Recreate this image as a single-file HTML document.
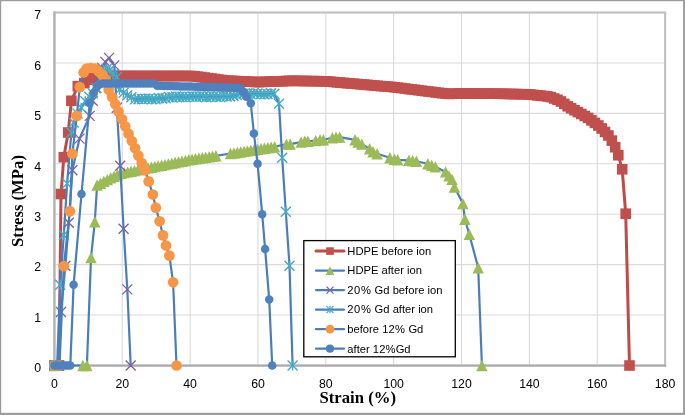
<!DOCTYPE html>
<html><head><meta charset="utf-8"><title>Stress-Strain</title>
<style>
html,body{margin:0;padding:0;background:#fff;}
#c{position:relative;width:685px;height:415px;overflow:hidden;background:#fff;}
.t{position:absolute;font-family:"Liberation Sans",sans-serif;font-size:11.2px;line-height:14px;color:#000;white-space:nowrap;}
#lb{position:absolute;left:0;top:0;width:685px;height:415px;will-change:transform;}
.tk{font-size:12.3px;}
.yt{left:0;width:41px;text-align:right;}
.xt{width:60px;text-align:center;top:376.8px;}
.ax{position:absolute;font-family:"Liberation Serif",serif;font-weight:bold;font-size:16.7px;line-height:20px;color:#000;white-space:nowrap;}
</style></head><body>
<div id="c">
<svg width="685" height="415" viewBox="0 0 685 415" style="position:absolute;left:0;top:0">
<rect x="0" y="0" width="685" height="415" fill="#fff"/>
<line x1="54.4" x2="665.1" y1="315.07" y2="315.07" stroke="#DADADA" stroke-width="1.1"/>
<line x1="54.4" x2="665.1" y1="264.64" y2="264.64" stroke="#DADADA" stroke-width="1.1"/>
<line x1="54.4" x2="665.1" y1="214.21" y2="214.21" stroke="#DADADA" stroke-width="1.1"/>
<line x1="54.4" x2="665.1" y1="163.79" y2="163.79" stroke="#DADADA" stroke-width="1.1"/>
<line x1="54.4" x2="665.1" y1="113.36" y2="113.36" stroke="#DADADA" stroke-width="1.1"/>
<line x1="54.4" x2="665.1" y1="62.93" y2="62.93" stroke="#DADADA" stroke-width="1.1"/>
<line x1="54.4" x2="665.1" y1="12.50" y2="12.50" stroke="#DADADA" stroke-width="1.1"/>
<line x1="122.26" x2="122.26" y1="12.5" y2="365.5" stroke="#DADADA" stroke-width="1.1"/>
<line x1="190.11" x2="190.11" y1="12.5" y2="365.5" stroke="#DADADA" stroke-width="1.1"/>
<line x1="257.97" x2="257.97" y1="12.5" y2="365.5" stroke="#DADADA" stroke-width="1.1"/>
<line x1="325.82" x2="325.82" y1="12.5" y2="365.5" stroke="#DADADA" stroke-width="1.1"/>
<line x1="393.68" x2="393.68" y1="12.5" y2="365.5" stroke="#DADADA" stroke-width="1.1"/>
<line x1="461.53" x2="461.53" y1="12.5" y2="365.5" stroke="#DADADA" stroke-width="1.1"/>
<line x1="529.39" x2="529.39" y1="12.5" y2="365.5" stroke="#DADADA" stroke-width="1.1"/>
<line x1="597.24" x2="597.24" y1="12.5" y2="365.5" stroke="#DADADA" stroke-width="1.1"/>
<line x1="665.10" x2="665.10" y1="12.5" y2="365.5" stroke="#DADADA" stroke-width="1.1"/>
<rect x="54.4" y="12.5" width="610.7" height="353.0" fill="none" stroke="#C2C2C2" stroke-width="2.2"/>
<line x1="54.4" x2="54.4" y1="11.4" y2="366.5" stroke="#B2B2B2" stroke-width="2.0"/>
<line x1="53.3" x2="666.2" y1="365.6" y2="365.6" stroke="#A8A8A8" stroke-width="1.9"/>
<polyline points="54.4,365.5 59.1,365.5 61.0,194.0 63.8,157.2 68.2,132.5 71.4,100.8 77.8,86.1 84.3,83.1 89.3,79.6 92.7,78.1 96.1,76.9 99.5,76.4 102.9,76.0 106.3,76.0 109.7,76.0 113.1,76.0 116.5,76.0 119.9,76.0 123.3,76.0 126.7,76.0 130.1,76.0 133.5,76.0 136.8,76.0 140.2,76.0 143.6,76.0 147.0,76.0 150.4,76.0 153.8,76.0 157.2,76.0 160.6,76.0 164.0,76.0 167.4,76.0 170.8,76.0 174.2,76.0 177.6,76.0 181.0,76.0 184.3,76.0 187.7,76.0 191.1,76.0 194.5,76.2 197.9,76.7 201.3,77.1 204.7,77.6 208.1,78.1 211.5,78.6 214.9,79.0 218.3,79.5 221.7,80.0 225.1,80.5 228.4,80.7 231.8,80.9 235.2,81.0 238.6,81.2 242.0,81.3 245.4,81.5 248.8,81.7 252.2,81.8 255.6,82.0 259.0,82.1 262.4,81.9 265.8,81.8 269.2,81.7 272.6,81.5 275.9,81.4 279.3,81.3 282.7,81.2 286.1,81.0 289.5,80.9 292.9,80.8 296.3,80.9 299.7,80.9 303.1,81.0 306.5,81.0 309.9,81.1 313.3,81.1 316.7,81.2 320.1,81.2 323.4,81.3 326.8,81.4 330.2,81.7 333.6,82.0 337.0,82.3 340.4,82.6 343.8,82.9 347.2,83.2 350.6,83.5 354.0,83.7 357.4,84.0 360.8,84.3 364.2,84.6 367.6,84.9 370.9,85.2 374.3,85.5 377.7,85.8 381.1,86.1 384.5,86.4 387.9,86.6 391.3,86.9 394.7,87.3 398.1,87.7 401.5,88.1 404.9,88.5 408.3,89.0 411.7,89.4 415.1,89.8 418.4,90.2 421.8,90.7 425.2,91.1 428.6,91.5 432.0,91.9 435.4,92.4 438.8,92.8 442.2,93.2 445.6,93.6 449.0,93.9 452.4,93.8 455.8,93.7 459.2,93.5 462.6,93.4 465.9,93.5 469.3,93.5 472.7,93.5 476.1,93.5 479.5,93.6 482.9,93.6 486.3,93.6 489.7,93.6 493.1,93.7 496.5,93.7 499.9,93.8 503.3,93.8 506.7,93.9 510.1,94.0 513.4,94.0 516.8,94.1 520.2,94.2 523.6,94.2 527.0,94.3 530.4,94.5 533.8,94.9 537.2,95.3 540.6,95.6 544.0,96.0 547.4,96.4 550.8,97.1 554.2,98.5 557.5,99.8 560.9,101.5 564.3,103.9 567.7,106.3 571.1,108.2 574.5,110.2 577.9,112.1 581.3,114.0 584.7,116.0 588.1,117.9 591.5,120.4 594.9,122.9 598.3,125.5 601.7,128.5 605.0,132.0 608.4,135.5 611.8,140.6 615.2,147.2 618.3,155.2 622.2,169.3 625.7,213.7 629.5,365.5" fill="none" stroke="#BE4B48" stroke-width="3.0" stroke-linejoin="round" stroke-linecap="round"/>
<rect x="49.1" y="360.2" width="10.6" height="10.6" fill="#C0504D"/>
<rect x="53.8" y="360.2" width="10.6" height="10.6" fill="#C0504D"/>
<rect x="55.7" y="188.7" width="10.6" height="10.6" fill="#C0504D"/>
<rect x="58.5" y="151.9" width="10.6" height="10.6" fill="#C0504D"/>
<rect x="62.9" y="127.2" width="10.6" height="10.6" fill="#C0504D"/>
<rect x="66.1" y="95.5" width="10.6" height="10.6" fill="#C0504D"/>
<rect x="72.5" y="80.8" width="10.6" height="10.6" fill="#C0504D"/>
<rect x="79.0" y="77.8" width="10.6" height="10.6" fill="#C0504D"/>
<rect x="84.0" y="74.3" width="10.6" height="10.6" fill="#C0504D"/>
<rect x="87.4" y="72.8" width="10.6" height="10.6" fill="#C0504D"/>
<rect x="90.8" y="71.6" width="10.6" height="10.6" fill="#C0504D"/>
<rect x="94.2" y="71.1" width="10.6" height="10.6" fill="#C0504D"/>
<rect x="97.6" y="70.7" width="10.6" height="10.6" fill="#C0504D"/>
<rect x="101.0" y="70.7" width="10.6" height="10.6" fill="#C0504D"/>
<rect x="104.4" y="70.7" width="10.6" height="10.6" fill="#C0504D"/>
<rect x="107.8" y="70.7" width="10.6" height="10.6" fill="#C0504D"/>
<rect x="111.2" y="70.7" width="10.6" height="10.6" fill="#C0504D"/>
<rect x="114.6" y="70.7" width="10.6" height="10.6" fill="#C0504D"/>
<rect x="118.0" y="70.7" width="10.6" height="10.6" fill="#C0504D"/>
<rect x="121.4" y="70.7" width="10.6" height="10.6" fill="#C0504D"/>
<rect x="124.8" y="70.7" width="10.6" height="10.6" fill="#C0504D"/>
<rect x="128.2" y="70.7" width="10.6" height="10.6" fill="#C0504D"/>
<rect x="131.5" y="70.7" width="10.6" height="10.6" fill="#C0504D"/>
<rect x="134.9" y="70.7" width="10.6" height="10.6" fill="#C0504D"/>
<rect x="138.3" y="70.7" width="10.6" height="10.6" fill="#C0504D"/>
<rect x="141.7" y="70.7" width="10.6" height="10.6" fill="#C0504D"/>
<rect x="145.1" y="70.7" width="10.6" height="10.6" fill="#C0504D"/>
<rect x="148.5" y="70.7" width="10.6" height="10.6" fill="#C0504D"/>
<rect x="151.9" y="70.7" width="10.6" height="10.6" fill="#C0504D"/>
<rect x="155.3" y="70.7" width="10.6" height="10.6" fill="#C0504D"/>
<rect x="158.7" y="70.7" width="10.6" height="10.6" fill="#C0504D"/>
<rect x="162.1" y="70.7" width="10.6" height="10.6" fill="#C0504D"/>
<rect x="165.5" y="70.7" width="10.6" height="10.6" fill="#C0504D"/>
<rect x="168.9" y="70.7" width="10.6" height="10.6" fill="#C0504D"/>
<rect x="172.3" y="70.7" width="10.6" height="10.6" fill="#C0504D"/>
<rect x="175.7" y="70.7" width="10.6" height="10.6" fill="#C0504D"/>
<rect x="179.0" y="70.7" width="10.6" height="10.6" fill="#C0504D"/>
<rect x="182.4" y="70.7" width="10.6" height="10.6" fill="#C0504D"/>
<rect x="185.8" y="70.7" width="10.6" height="10.6" fill="#C0504D"/>
<rect x="189.2" y="70.9" width="10.6" height="10.6" fill="#C0504D"/>
<rect x="192.6" y="71.4" width="10.6" height="10.6" fill="#C0504D"/>
<rect x="196.0" y="71.8" width="10.6" height="10.6" fill="#C0504D"/>
<rect x="199.4" y="72.3" width="10.6" height="10.6" fill="#C0504D"/>
<rect x="202.8" y="72.8" width="10.6" height="10.6" fill="#C0504D"/>
<rect x="206.2" y="73.3" width="10.6" height="10.6" fill="#C0504D"/>
<rect x="209.6" y="73.7" width="10.6" height="10.6" fill="#C0504D"/>
<rect x="213.0" y="74.2" width="10.6" height="10.6" fill="#C0504D"/>
<rect x="216.4" y="74.7" width="10.6" height="10.6" fill="#C0504D"/>
<rect x="219.8" y="75.2" width="10.6" height="10.6" fill="#C0504D"/>
<rect x="223.1" y="75.4" width="10.6" height="10.6" fill="#C0504D"/>
<rect x="226.5" y="75.6" width="10.6" height="10.6" fill="#C0504D"/>
<rect x="229.9" y="75.7" width="10.6" height="10.6" fill="#C0504D"/>
<rect x="233.3" y="75.9" width="10.6" height="10.6" fill="#C0504D"/>
<rect x="236.7" y="76.0" width="10.6" height="10.6" fill="#C0504D"/>
<rect x="240.1" y="76.2" width="10.6" height="10.6" fill="#C0504D"/>
<rect x="243.5" y="76.4" width="10.6" height="10.6" fill="#C0504D"/>
<rect x="246.9" y="76.5" width="10.6" height="10.6" fill="#C0504D"/>
<rect x="250.3" y="76.7" width="10.6" height="10.6" fill="#C0504D"/>
<rect x="253.7" y="76.8" width="10.6" height="10.6" fill="#C0504D"/>
<rect x="257.1" y="76.6" width="10.6" height="10.6" fill="#C0504D"/>
<rect x="260.5" y="76.5" width="10.6" height="10.6" fill="#C0504D"/>
<rect x="263.9" y="76.4" width="10.6" height="10.6" fill="#C0504D"/>
<rect x="267.3" y="76.2" width="10.6" height="10.6" fill="#C0504D"/>
<rect x="270.6" y="76.1" width="10.6" height="10.6" fill="#C0504D"/>
<rect x="274.0" y="76.0" width="10.6" height="10.6" fill="#C0504D"/>
<rect x="277.4" y="75.9" width="10.6" height="10.6" fill="#C0504D"/>
<rect x="280.8" y="75.7" width="10.6" height="10.6" fill="#C0504D"/>
<rect x="284.2" y="75.6" width="10.6" height="10.6" fill="#C0504D"/>
<rect x="287.6" y="75.5" width="10.6" height="10.6" fill="#C0504D"/>
<rect x="291.0" y="75.6" width="10.6" height="10.6" fill="#C0504D"/>
<rect x="294.4" y="75.6" width="10.6" height="10.6" fill="#C0504D"/>
<rect x="297.8" y="75.7" width="10.6" height="10.6" fill="#C0504D"/>
<rect x="301.2" y="75.7" width="10.6" height="10.6" fill="#C0504D"/>
<rect x="304.6" y="75.8" width="10.6" height="10.6" fill="#C0504D"/>
<rect x="308.0" y="75.8" width="10.6" height="10.6" fill="#C0504D"/>
<rect x="311.4" y="75.9" width="10.6" height="10.6" fill="#C0504D"/>
<rect x="314.8" y="75.9" width="10.6" height="10.6" fill="#C0504D"/>
<rect x="318.1" y="76.0" width="10.6" height="10.6" fill="#C0504D"/>
<rect x="321.5" y="76.1" width="10.6" height="10.6" fill="#C0504D"/>
<rect x="324.9" y="76.4" width="10.6" height="10.6" fill="#C0504D"/>
<rect x="328.3" y="76.7" width="10.6" height="10.6" fill="#C0504D"/>
<rect x="331.7" y="77.0" width="10.6" height="10.6" fill="#C0504D"/>
<rect x="335.1" y="77.3" width="10.6" height="10.6" fill="#C0504D"/>
<rect x="338.5" y="77.6" width="10.6" height="10.6" fill="#C0504D"/>
<rect x="341.9" y="77.9" width="10.6" height="10.6" fill="#C0504D"/>
<rect x="345.3" y="78.2" width="10.6" height="10.6" fill="#C0504D"/>
<rect x="348.7" y="78.4" width="10.6" height="10.6" fill="#C0504D"/>
<rect x="352.1" y="78.7" width="10.6" height="10.6" fill="#C0504D"/>
<rect x="355.5" y="79.0" width="10.6" height="10.6" fill="#C0504D"/>
<rect x="358.9" y="79.3" width="10.6" height="10.6" fill="#C0504D"/>
<rect x="362.3" y="79.6" width="10.6" height="10.6" fill="#C0504D"/>
<rect x="365.6" y="79.9" width="10.6" height="10.6" fill="#C0504D"/>
<rect x="369.0" y="80.2" width="10.6" height="10.6" fill="#C0504D"/>
<rect x="372.4" y="80.5" width="10.6" height="10.6" fill="#C0504D"/>
<rect x="375.8" y="80.8" width="10.6" height="10.6" fill="#C0504D"/>
<rect x="379.2" y="81.1" width="10.6" height="10.6" fill="#C0504D"/>
<rect x="382.6" y="81.3" width="10.6" height="10.6" fill="#C0504D"/>
<rect x="386.0" y="81.6" width="10.6" height="10.6" fill="#C0504D"/>
<rect x="389.4" y="82.0" width="10.6" height="10.6" fill="#C0504D"/>
<rect x="392.8" y="82.4" width="10.6" height="10.6" fill="#C0504D"/>
<rect x="396.2" y="82.8" width="10.6" height="10.6" fill="#C0504D"/>
<rect x="399.6" y="83.2" width="10.6" height="10.6" fill="#C0504D"/>
<rect x="403.0" y="83.7" width="10.6" height="10.6" fill="#C0504D"/>
<rect x="406.4" y="84.1" width="10.6" height="10.6" fill="#C0504D"/>
<rect x="409.8" y="84.5" width="10.6" height="10.6" fill="#C0504D"/>
<rect x="413.1" y="84.9" width="10.6" height="10.6" fill="#C0504D"/>
<rect x="416.5" y="85.4" width="10.6" height="10.6" fill="#C0504D"/>
<rect x="419.9" y="85.8" width="10.6" height="10.6" fill="#C0504D"/>
<rect x="423.3" y="86.2" width="10.6" height="10.6" fill="#C0504D"/>
<rect x="426.7" y="86.6" width="10.6" height="10.6" fill="#C0504D"/>
<rect x="430.1" y="87.1" width="10.6" height="10.6" fill="#C0504D"/>
<rect x="433.5" y="87.5" width="10.6" height="10.6" fill="#C0504D"/>
<rect x="436.9" y="87.9" width="10.6" height="10.6" fill="#C0504D"/>
<rect x="440.3" y="88.3" width="10.6" height="10.6" fill="#C0504D"/>
<rect x="443.7" y="88.6" width="10.6" height="10.6" fill="#C0504D"/>
<rect x="447.1" y="88.5" width="10.6" height="10.6" fill="#C0504D"/>
<rect x="450.5" y="88.4" width="10.6" height="10.6" fill="#C0504D"/>
<rect x="453.9" y="88.2" width="10.6" height="10.6" fill="#C0504D"/>
<rect x="457.3" y="88.1" width="10.6" height="10.6" fill="#C0504D"/>
<rect x="460.6" y="88.2" width="10.6" height="10.6" fill="#C0504D"/>
<rect x="464.0" y="88.2" width="10.6" height="10.6" fill="#C0504D"/>
<rect x="467.4" y="88.2" width="10.6" height="10.6" fill="#C0504D"/>
<rect x="470.8" y="88.2" width="10.6" height="10.6" fill="#C0504D"/>
<rect x="474.2" y="88.3" width="10.6" height="10.6" fill="#C0504D"/>
<rect x="477.6" y="88.3" width="10.6" height="10.6" fill="#C0504D"/>
<rect x="481.0" y="88.3" width="10.6" height="10.6" fill="#C0504D"/>
<rect x="484.4" y="88.3" width="10.6" height="10.6" fill="#C0504D"/>
<rect x="487.8" y="88.4" width="10.6" height="10.6" fill="#C0504D"/>
<rect x="491.2" y="88.4" width="10.6" height="10.6" fill="#C0504D"/>
<rect x="494.6" y="88.5" width="10.6" height="10.6" fill="#C0504D"/>
<rect x="498.0" y="88.5" width="10.6" height="10.6" fill="#C0504D"/>
<rect x="501.4" y="88.6" width="10.6" height="10.6" fill="#C0504D"/>
<rect x="504.8" y="88.7" width="10.6" height="10.6" fill="#C0504D"/>
<rect x="508.1" y="88.7" width="10.6" height="10.6" fill="#C0504D"/>
<rect x="511.5" y="88.8" width="10.6" height="10.6" fill="#C0504D"/>
<rect x="514.9" y="88.9" width="10.6" height="10.6" fill="#C0504D"/>
<rect x="518.3" y="88.9" width="10.6" height="10.6" fill="#C0504D"/>
<rect x="521.7" y="89.0" width="10.6" height="10.6" fill="#C0504D"/>
<rect x="525.1" y="89.2" width="10.6" height="10.6" fill="#C0504D"/>
<rect x="528.5" y="89.6" width="10.6" height="10.6" fill="#C0504D"/>
<rect x="531.9" y="90.0" width="10.6" height="10.6" fill="#C0504D"/>
<rect x="535.3" y="90.3" width="10.6" height="10.6" fill="#C0504D"/>
<rect x="538.7" y="90.7" width="10.6" height="10.6" fill="#C0504D"/>
<rect x="542.1" y="91.1" width="10.6" height="10.6" fill="#C0504D"/>
<rect x="545.5" y="91.8" width="10.6" height="10.6" fill="#C0504D"/>
<rect x="548.9" y="93.2" width="10.6" height="10.6" fill="#C0504D"/>
<rect x="552.2" y="94.5" width="10.6" height="10.6" fill="#C0504D"/>
<rect x="555.6" y="96.2" width="10.6" height="10.6" fill="#C0504D"/>
<rect x="559.0" y="98.6" width="10.6" height="10.6" fill="#C0504D"/>
<rect x="562.4" y="101.0" width="10.6" height="10.6" fill="#C0504D"/>
<rect x="565.8" y="102.9" width="10.6" height="10.6" fill="#C0504D"/>
<rect x="569.2" y="104.9" width="10.6" height="10.6" fill="#C0504D"/>
<rect x="572.6" y="106.8" width="10.6" height="10.6" fill="#C0504D"/>
<rect x="576.0" y="108.7" width="10.6" height="10.6" fill="#C0504D"/>
<rect x="579.4" y="110.7" width="10.6" height="10.6" fill="#C0504D"/>
<rect x="582.8" y="112.6" width="10.6" height="10.6" fill="#C0504D"/>
<rect x="586.2" y="115.1" width="10.6" height="10.6" fill="#C0504D"/>
<rect x="589.6" y="117.6" width="10.6" height="10.6" fill="#C0504D"/>
<rect x="593.0" y="120.2" width="10.6" height="10.6" fill="#C0504D"/>
<rect x="596.4" y="123.2" width="10.6" height="10.6" fill="#C0504D"/>
<rect x="599.7" y="126.7" width="10.6" height="10.6" fill="#C0504D"/>
<rect x="603.1" y="130.2" width="10.6" height="10.6" fill="#C0504D"/>
<rect x="606.5" y="135.3" width="10.6" height="10.6" fill="#C0504D"/>
<rect x="609.9" y="141.9" width="10.6" height="10.6" fill="#C0504D"/>
<rect x="613.0" y="149.9" width="10.6" height="10.6" fill="#C0504D"/>
<rect x="616.9" y="164.0" width="10.6" height="10.6" fill="#C0504D"/>
<rect x="620.4" y="208.4" width="10.6" height="10.6" fill="#C0504D"/>
<rect x="624.2" y="360.2" width="10.6" height="10.6" fill="#C0504D"/>
<polyline points="54.4,365.5 82.9,365.5 86.9,365.5 91.0,257.6 94.8,221.8 97.1,185.0 100.5,183.2 103.9,181.4 107.3,179.6 110.7,177.9 114.1,176.3 117.5,174.7 120.9,173.2 124.3,172.6 127.7,171.9 131.1,171.3 134.5,170.6 137.9,169.9 141.3,169.3 144.6,168.6 148.0,167.9 151.4,167.3 154.8,166.6 158.2,165.9 161.6,165.2 165.0,164.6 168.4,163.9 171.8,163.2 175.2,162.5 178.6,161.9 182.0,161.2 185.4,160.5 188.8,159.8 192.1,159.3 195.5,158.8 198.9,158.3 202.3,157.8 205.7,157.3 209.1,156.8 212.5,156.3 215.9,155.8 230.5,153.5 233.9,153.0 237.3,152.5 240.7,152.0 244.1,151.4 247.4,150.9 250.8,150.4 254.2,149.9 257.6,149.4 261.0,148.8 264.4,148.3 267.8,147.8 271.2,147.3 274.6,146.7 286.5,144.1 290.2,144.1 301.1,142.1 304.8,141.3 307.8,141.3 315.6,140.6 320.1,139.8 323.4,139.8 332.3,137.8 336.0,137.1 339.7,137.1 355.0,139.8 358.1,142.1 361.8,144.1 369.6,148.7 373.0,151.7 377.1,153.7 389.9,157.7 394.4,159.2 397.7,159.8 408.9,160.3 412.7,160.8 416.4,161.3 427.9,163.8 431.7,165.3 435.4,166.8 445.6,171.9 449.0,175.9 452.0,179.4 454.4,187.0 462.9,203.6 464.9,219.3 469.3,234.4 478.2,267.7 481.9,365.5" fill="none" stroke="#4A7EBB" stroke-width="2.2" stroke-linejoin="round" stroke-linecap="round"/>
<path d="M54.4 359.8 L60.1 371.2 L48.7 371.2 Z" fill="#9BBB59"/>
<path d="M82.9 359.8 L88.6 371.2 L77.2 371.2 Z" fill="#9BBB59"/>
<path d="M86.9 359.8 L92.6 371.2 L81.2 371.2 Z" fill="#9BBB59"/>
<path d="M91.0 251.9 L96.7 263.3 L85.3 263.3 Z" fill="#9BBB59"/>
<path d="M94.8 216.1 L100.5 227.5 L89.1 227.5 Z" fill="#9BBB59"/>
<path d="M97.1 179.3 L102.8 190.7 L91.4 190.7 Z" fill="#9BBB59"/>
<path d="M100.5 177.5 L106.2 188.9 L94.8 188.9 Z" fill="#9BBB59"/>
<path d="M103.9 175.7 L109.6 187.1 L98.2 187.1 Z" fill="#9BBB59"/>
<path d="M107.3 173.9 L113.0 185.3 L101.6 185.3 Z" fill="#9BBB59"/>
<path d="M110.7 172.2 L116.4 183.6 L105.0 183.6 Z" fill="#9BBB59"/>
<path d="M114.1 170.6 L119.8 182.0 L108.4 182.0 Z" fill="#9BBB59"/>
<path d="M117.5 169.0 L123.2 180.4 L111.8 180.4 Z" fill="#9BBB59"/>
<path d="M120.9 167.5 L126.6 178.9 L115.2 178.9 Z" fill="#9BBB59"/>
<path d="M124.3 166.9 L130.0 178.3 L118.6 178.3 Z" fill="#9BBB59"/>
<path d="M127.7 166.2 L133.4 177.6 L122.0 177.6 Z" fill="#9BBB59"/>
<path d="M131.1 165.6 L136.8 177.0 L125.4 177.0 Z" fill="#9BBB59"/>
<path d="M134.5 164.9 L140.2 176.3 L128.8 176.3 Z" fill="#9BBB59"/>
<path d="M137.9 164.2 L143.6 175.6 L132.2 175.6 Z" fill="#9BBB59"/>
<path d="M141.3 163.6 L147.0 175.0 L135.6 175.0 Z" fill="#9BBB59"/>
<path d="M144.6 162.9 L150.3 174.3 L138.9 174.3 Z" fill="#9BBB59"/>
<path d="M148.0 162.2 L153.7 173.6 L142.3 173.6 Z" fill="#9BBB59"/>
<path d="M151.4 161.6 L157.1 173.0 L145.7 173.0 Z" fill="#9BBB59"/>
<path d="M154.8 160.9 L160.5 172.3 L149.1 172.3 Z" fill="#9BBB59"/>
<path d="M158.2 160.2 L163.9 171.6 L152.5 171.6 Z" fill="#9BBB59"/>
<path d="M161.6 159.5 L167.3 170.9 L155.9 170.9 Z" fill="#9BBB59"/>
<path d="M165.0 158.9 L170.7 170.3 L159.3 170.3 Z" fill="#9BBB59"/>
<path d="M168.4 158.2 L174.1 169.6 L162.7 169.6 Z" fill="#9BBB59"/>
<path d="M171.8 157.5 L177.5 168.9 L166.1 168.9 Z" fill="#9BBB59"/>
<path d="M175.2 156.8 L180.9 168.2 L169.5 168.2 Z" fill="#9BBB59"/>
<path d="M178.6 156.2 L184.3 167.6 L172.9 167.6 Z" fill="#9BBB59"/>
<path d="M182.0 155.5 L187.7 166.9 L176.3 166.9 Z" fill="#9BBB59"/>
<path d="M185.4 154.8 L191.1 166.2 L179.7 166.2 Z" fill="#9BBB59"/>
<path d="M188.8 154.1 L194.5 165.5 L183.1 165.5 Z" fill="#9BBB59"/>
<path d="M192.1 153.6 L197.8 165.0 L186.4 165.0 Z" fill="#9BBB59"/>
<path d="M195.5 153.1 L201.2 164.5 L189.8 164.5 Z" fill="#9BBB59"/>
<path d="M198.9 152.6 L204.6 164.0 L193.2 164.0 Z" fill="#9BBB59"/>
<path d="M202.3 152.1 L208.0 163.5 L196.6 163.5 Z" fill="#9BBB59"/>
<path d="M205.7 151.6 L211.4 163.0 L200.0 163.0 Z" fill="#9BBB59"/>
<path d="M209.1 151.1 L214.8 162.5 L203.4 162.5 Z" fill="#9BBB59"/>
<path d="M212.5 150.6 L218.2 162.0 L206.8 162.0 Z" fill="#9BBB59"/>
<path d="M215.9 150.1 L221.6 161.5 L210.2 161.5 Z" fill="#9BBB59"/>
<path d="M230.5 147.8 L236.2 159.2 L224.8 159.2 Z" fill="#9BBB59"/>
<path d="M233.9 147.3 L239.6 158.7 L228.2 158.7 Z" fill="#9BBB59"/>
<path d="M237.3 146.8 L243.0 158.2 L231.6 158.2 Z" fill="#9BBB59"/>
<path d="M240.7 146.3 L246.4 157.7 L235.0 157.7 Z" fill="#9BBB59"/>
<path d="M244.1 145.7 L249.8 157.1 L238.4 157.1 Z" fill="#9BBB59"/>
<path d="M247.4 145.2 L253.1 156.6 L241.7 156.6 Z" fill="#9BBB59"/>
<path d="M250.8 144.7 L256.5 156.1 L245.1 156.1 Z" fill="#9BBB59"/>
<path d="M254.2 144.2 L259.9 155.6 L248.5 155.6 Z" fill="#9BBB59"/>
<path d="M257.6 143.7 L263.3 155.1 L251.9 155.1 Z" fill="#9BBB59"/>
<path d="M261.0 143.1 L266.7 154.5 L255.3 154.5 Z" fill="#9BBB59"/>
<path d="M264.4 142.6 L270.1 154.0 L258.7 154.0 Z" fill="#9BBB59"/>
<path d="M267.8 142.1 L273.5 153.5 L262.1 153.5 Z" fill="#9BBB59"/>
<path d="M271.2 141.6 L276.9 153.0 L265.5 153.0 Z" fill="#9BBB59"/>
<path d="M274.6 141.0 L280.3 152.4 L268.9 152.4 Z" fill="#9BBB59"/>
<path d="M286.5 138.4 L292.2 149.8 L280.8 149.8 Z" fill="#9BBB59"/>
<path d="M290.2 138.4 L295.9 149.8 L284.5 149.8 Z" fill="#9BBB59"/>
<path d="M301.1 136.4 L306.8 147.8 L295.4 147.8 Z" fill="#9BBB59"/>
<path d="M304.8 135.6 L310.5 147.0 L299.1 147.0 Z" fill="#9BBB59"/>
<path d="M307.8 135.6 L313.5 147.0 L302.1 147.0 Z" fill="#9BBB59"/>
<path d="M315.6 134.9 L321.3 146.3 L309.9 146.3 Z" fill="#9BBB59"/>
<path d="M320.1 134.1 L325.8 145.5 L314.4 145.5 Z" fill="#9BBB59"/>
<path d="M323.4 134.1 L329.1 145.5 L317.7 145.5 Z" fill="#9BBB59"/>
<path d="M332.3 132.1 L338.0 143.5 L326.6 143.5 Z" fill="#9BBB59"/>
<path d="M336.0 131.4 L341.7 142.8 L330.3 142.8 Z" fill="#9BBB59"/>
<path d="M339.7 131.4 L345.4 142.8 L334.0 142.8 Z" fill="#9BBB59"/>
<path d="M355.0 134.1 L360.7 145.5 L349.3 145.5 Z" fill="#9BBB59"/>
<path d="M358.1 136.4 L363.8 147.8 L352.4 147.8 Z" fill="#9BBB59"/>
<path d="M361.8 138.4 L367.5 149.8 L356.1 149.8 Z" fill="#9BBB59"/>
<path d="M369.6 143.0 L375.3 154.4 L363.9 154.4 Z" fill="#9BBB59"/>
<path d="M373.0 146.0 L378.7 157.4 L367.3 157.4 Z" fill="#9BBB59"/>
<path d="M377.1 148.0 L382.8 159.4 L371.4 159.4 Z" fill="#9BBB59"/>
<path d="M389.9 152.0 L395.6 163.4 L384.2 163.4 Z" fill="#9BBB59"/>
<path d="M394.4 153.5 L400.1 164.9 L388.7 164.9 Z" fill="#9BBB59"/>
<path d="M397.7 154.1 L403.4 165.5 L392.0 165.5 Z" fill="#9BBB59"/>
<path d="M408.9 154.6 L414.6 166.0 L403.2 166.0 Z" fill="#9BBB59"/>
<path d="M412.7 155.1 L418.4 166.5 L407.0 166.5 Z" fill="#9BBB59"/>
<path d="M416.4 155.6 L422.1 167.0 L410.7 167.0 Z" fill="#9BBB59"/>
<path d="M427.9 158.1 L433.6 169.5 L422.2 169.5 Z" fill="#9BBB59"/>
<path d="M431.7 159.6 L437.4 171.0 L426.0 171.0 Z" fill="#9BBB59"/>
<path d="M435.4 161.1 L441.1 172.5 L429.7 172.5 Z" fill="#9BBB59"/>
<path d="M445.6 166.2 L451.3 177.6 L439.9 177.6 Z" fill="#9BBB59"/>
<path d="M449.0 170.2 L454.7 181.6 L443.3 181.6 Z" fill="#9BBB59"/>
<path d="M452.0 173.7 L457.7 185.1 L446.3 185.1 Z" fill="#9BBB59"/>
<path d="M454.4 181.3 L460.1 192.7 L448.7 192.7 Z" fill="#9BBB59"/>
<path d="M462.9 197.9 L468.6 209.3 L457.2 209.3 Z" fill="#9BBB59"/>
<path d="M464.9 213.6 L470.6 225.0 L459.2 225.0 Z" fill="#9BBB59"/>
<path d="M469.3 228.7 L475.0 240.1 L463.6 240.1 Z" fill="#9BBB59"/>
<path d="M478.2 262.0 L483.9 273.4 L472.5 273.4 Z" fill="#9BBB59"/>
<path d="M481.9 359.8 L487.6 371.2 L476.2 371.2 Z" fill="#9BBB59"/>
<polyline points="54.4,365.5 58.5,365.5 61.0,312.0 65.4,265.7 68.8,222.8 72.4,170.3 79.5,138.6 89.7,115.9 92.7,100.8 95.8,88.1 99.2,77.0 102.2,68.0 105.3,61.9 109.0,57.9 114.3,65.4 116.8,107.8 120.2,165.8 123.6,228.8 127.3,289.4 130.7,365.5" fill="none" stroke="#4A7EBB" stroke-width="2.2" stroke-linejoin="round" stroke-linecap="round"/>
<path d="M49.4 360.5 L59.4 370.5 M49.4 370.5 L59.4 360.5" stroke="#7D60A0" stroke-width="1.3" fill="none"/>
<path d="M53.5 360.5 L63.5 370.5 M53.5 370.5 L63.5 360.5" stroke="#7D60A0" stroke-width="1.3" fill="none"/>
<path d="M56.0 307.0 L66.0 317.0 M56.0 317.0 L66.0 307.0" stroke="#7D60A0" stroke-width="1.3" fill="none"/>
<path d="M60.4 260.7 L70.4 270.7 M60.4 270.7 L70.4 260.7" stroke="#7D60A0" stroke-width="1.3" fill="none"/>
<path d="M63.8 217.8 L73.8 227.8 M63.8 227.8 L73.8 217.8" stroke="#7D60A0" stroke-width="1.3" fill="none"/>
<path d="M67.4 165.3 L77.4 175.3 M67.4 175.3 L77.4 165.3" stroke="#7D60A0" stroke-width="1.3" fill="none"/>
<path d="M74.5 133.6 L84.5 143.6 M74.5 143.6 L84.5 133.6" stroke="#7D60A0" stroke-width="1.3" fill="none"/>
<path d="M84.7 110.9 L94.7 120.9 M84.7 120.9 L94.7 110.9" stroke="#7D60A0" stroke-width="1.3" fill="none"/>
<path d="M87.7 95.8 L97.7 105.8 M87.7 105.8 L97.7 95.8" stroke="#7D60A0" stroke-width="1.3" fill="none"/>
<path d="M90.8 83.1 L100.8 93.1 M90.8 93.1 L100.8 83.1" stroke="#7D60A0" stroke-width="1.3" fill="none"/>
<path d="M94.2 72.0 L104.2 82.0 M94.2 82.0 L104.2 72.0" stroke="#7D60A0" stroke-width="1.3" fill="none"/>
<path d="M97.2 63.0 L107.2 73.0 M97.2 73.0 L107.2 63.0" stroke="#7D60A0" stroke-width="1.3" fill="none"/>
<path d="M100.3 56.9 L110.3 66.9 M100.3 66.9 L110.3 56.9" stroke="#7D60A0" stroke-width="1.3" fill="none"/>
<path d="M104.0 52.9 L114.0 62.9 M104.0 62.9 L114.0 52.9" stroke="#7D60A0" stroke-width="1.3" fill="none"/>
<path d="M109.3 60.4 L119.3 70.4 M109.3 70.4 L119.3 60.4" stroke="#7D60A0" stroke-width="1.3" fill="none"/>
<path d="M111.8 102.8 L121.8 112.8 M111.8 112.8 L121.8 102.8" stroke="#7D60A0" stroke-width="1.3" fill="none"/>
<path d="M115.2 160.8 L125.2 170.8 M115.2 170.8 L125.2 160.8" stroke="#7D60A0" stroke-width="1.3" fill="none"/>
<path d="M118.6 223.8 L128.6 233.8 M118.6 233.8 L128.6 223.8" stroke="#7D60A0" stroke-width="1.3" fill="none"/>
<path d="M122.3 284.4 L132.3 294.4 M122.3 294.4 L132.3 284.4" stroke="#7D60A0" stroke-width="1.3" fill="none"/>
<path d="M125.7 360.5 L135.7 370.5 M125.7 370.5 L135.7 360.5" stroke="#7D60A0" stroke-width="1.3" fill="none"/>
<polyline points="54.4,365.5 57.1,365.5 60.2,284.8 63.8,234.9 67.1,183.5 71.4,132.5 73.6,122.4 77.5,113.4 81.2,107.8 85.3,101.3 89.3,96.7 92.7,93.2 96.5,88.1 99.9,79.1 103.6,70.5 106.6,69.0 109.7,70.5 113.1,74.0 116.8,77.0 119.5,89.7 123.6,92.7 127.3,95.2 131.4,97.2 135.1,99.3 138.5,98.9 141.9,99.1 145.3,98.7 148.7,98.7 152.1,99.3 155.5,99.3 158.9,98.1 162.3,98.5 165.7,98.2 169.1,97.0 172.5,97.4 175.9,96.6 179.3,97.0 182.6,96.7 186.0,97.3 189.4,96.7 192.8,96.4 196.2,96.8 199.6,96.5 203.0,96.5 206.4,97.2 209.8,96.4 213.2,96.5 216.6,96.8 220.0,97.1 223.4,96.1 226.8,96.5 230.1,96.2 233.5,95.7 236.9,94.9 240.3,93.6 243.7,94.1 247.1,93.5 250.5,93.9 253.9,93.3 257.3,93.4 260.7,94.3 264.1,94.2 267.5,94.1 270.9,93.2 274.3,93.8 279.0,103.8 282.2,157.7 285.8,211.7 289.5,265.7 292.6,365.5" fill="none" stroke="#4A7EBB" stroke-width="2.2" stroke-linejoin="round" stroke-linecap="round"/>
<path d="M49.4 360.5 L59.4 370.5 M49.4 370.5 L59.4 360.5 M54.4 360.5 L54.4 370.5" stroke="#46AAC5" stroke-width="1.4" fill="none"/>
<path d="M52.1 360.5 L62.1 370.5 M52.1 370.5 L62.1 360.5 M57.1 360.5 L57.1 370.5" stroke="#46AAC5" stroke-width="1.4" fill="none"/>
<path d="M55.2 279.8 L65.2 289.8 M55.2 289.8 L65.2 279.8 M60.2 279.8 L60.2 289.8" stroke="#46AAC5" stroke-width="1.4" fill="none"/>
<path d="M58.8 229.9 L68.8 239.9 M58.8 239.9 L68.8 229.9 M63.8 229.9 L63.8 239.9" stroke="#46AAC5" stroke-width="1.4" fill="none"/>
<path d="M62.1 178.5 L72.1 188.5 M62.1 188.5 L72.1 178.5 M67.1 178.5 L67.1 188.5" stroke="#46AAC5" stroke-width="1.4" fill="none"/>
<path d="M66.4 127.5 L76.4 137.5 M66.4 137.5 L76.4 127.5 M71.4 127.5 L71.4 137.5" stroke="#46AAC5" stroke-width="1.4" fill="none"/>
<path d="M68.6 117.4 L78.6 127.4 M68.6 127.4 L78.6 117.4 M73.6 117.4 L73.6 127.4" stroke="#46AAC5" stroke-width="1.4" fill="none"/>
<path d="M72.5 108.4 L82.5 118.4 M72.5 118.4 L82.5 108.4 M77.5 108.4 L77.5 118.4" stroke="#46AAC5" stroke-width="1.4" fill="none"/>
<path d="M76.2 102.8 L86.2 112.8 M76.2 112.8 L86.2 102.8 M81.2 102.8 L81.2 112.8" stroke="#46AAC5" stroke-width="1.4" fill="none"/>
<path d="M80.3 96.3 L90.3 106.3 M80.3 106.3 L90.3 96.3 M85.3 96.3 L85.3 106.3" stroke="#46AAC5" stroke-width="1.4" fill="none"/>
<path d="M84.3 91.7 L94.3 101.7 M84.3 101.7 L94.3 91.7 M89.3 91.7 L89.3 101.7" stroke="#46AAC5" stroke-width="1.4" fill="none"/>
<path d="M87.7 88.2 L97.7 98.2 M87.7 98.2 L97.7 88.2 M92.7 88.2 L92.7 98.2" stroke="#46AAC5" stroke-width="1.4" fill="none"/>
<path d="M91.5 83.1 L101.5 93.1 M91.5 93.1 L101.5 83.1 M96.5 83.1 L96.5 93.1" stroke="#46AAC5" stroke-width="1.4" fill="none"/>
<path d="M94.9 74.1 L104.9 84.1 M94.9 84.1 L104.9 74.1 M99.9 74.1 L99.9 84.1" stroke="#46AAC5" stroke-width="1.4" fill="none"/>
<path d="M98.6 65.5 L108.6 75.5 M98.6 75.5 L108.6 65.5 M103.6 65.5 L103.6 75.5" stroke="#46AAC5" stroke-width="1.4" fill="none"/>
<path d="M101.6 64.0 L111.6 74.0 M101.6 74.0 L111.6 64.0 M106.6 64.0 L106.6 74.0" stroke="#46AAC5" stroke-width="1.4" fill="none"/>
<path d="M104.7 65.5 L114.7 75.5 M104.7 75.5 L114.7 65.5 M109.7 65.5 L109.7 75.5" stroke="#46AAC5" stroke-width="1.4" fill="none"/>
<path d="M108.1 69.0 L118.1 79.0 M108.1 79.0 L118.1 69.0 M113.1 69.0 L113.1 79.0" stroke="#46AAC5" stroke-width="1.4" fill="none"/>
<path d="M111.8 72.0 L121.8 82.0 M111.8 82.0 L121.8 72.0 M116.8 72.0 L116.8 82.0" stroke="#46AAC5" stroke-width="1.4" fill="none"/>
<path d="M114.5 84.7 L124.5 94.7 M114.5 94.7 L124.5 84.7 M119.5 84.7 L119.5 94.7" stroke="#46AAC5" stroke-width="1.4" fill="none"/>
<path d="M118.6 87.7 L128.6 97.7 M118.6 97.7 L128.6 87.7 M123.6 87.7 L123.6 97.7" stroke="#46AAC5" stroke-width="1.4" fill="none"/>
<path d="M122.3 90.2 L132.3 100.2 M122.3 100.2 L132.3 90.2 M127.3 90.2 L127.3 100.2" stroke="#46AAC5" stroke-width="1.4" fill="none"/>
<path d="M126.4 92.2 L136.4 102.2 M126.4 102.2 L136.4 92.2 M131.4 92.2 L131.4 102.2" stroke="#46AAC5" stroke-width="1.4" fill="none"/>
<path d="M130.1 94.3 L140.1 104.3 M130.1 104.3 L140.1 94.3 M135.1 94.3 L135.1 104.3" stroke="#46AAC5" stroke-width="1.4" fill="none"/>
<path d="M133.5 93.9 L143.5 103.9 M133.5 103.9 L143.5 93.9 M138.5 93.9 L138.5 103.9" stroke="#46AAC5" stroke-width="1.4" fill="none"/>
<path d="M136.9 94.1 L146.9 104.1 M136.9 104.1 L146.9 94.1 M141.9 94.1 L141.9 104.1" stroke="#46AAC5" stroke-width="1.4" fill="none"/>
<path d="M140.3 93.7 L150.3 103.7 M140.3 103.7 L150.3 93.7 M145.3 93.7 L145.3 103.7" stroke="#46AAC5" stroke-width="1.4" fill="none"/>
<path d="M143.7 93.7 L153.7 103.7 M143.7 103.7 L153.7 93.7 M148.7 93.7 L148.7 103.7" stroke="#46AAC5" stroke-width="1.4" fill="none"/>
<path d="M147.1 94.3 L157.1 104.3 M147.1 104.3 L157.1 94.3 M152.1 94.3 L152.1 104.3" stroke="#46AAC5" stroke-width="1.4" fill="none"/>
<path d="M150.5 94.3 L160.5 104.3 M150.5 104.3 L160.5 94.3 M155.5 94.3 L155.5 104.3" stroke="#46AAC5" stroke-width="1.4" fill="none"/>
<path d="M153.9 93.1 L163.9 103.1 M153.9 103.1 L163.9 93.1 M158.9 93.1 L158.9 103.1" stroke="#46AAC5" stroke-width="1.4" fill="none"/>
<path d="M157.3 93.5 L167.3 103.5 M157.3 103.5 L167.3 93.5 M162.3 93.5 L162.3 103.5" stroke="#46AAC5" stroke-width="1.4" fill="none"/>
<path d="M160.7 93.2 L170.7 103.2 M160.7 103.2 L170.7 93.2 M165.7 93.2 L165.7 103.2" stroke="#46AAC5" stroke-width="1.4" fill="none"/>
<path d="M164.1 92.0 L174.1 102.0 M164.1 102.0 L174.1 92.0 M169.1 92.0 L169.1 102.0" stroke="#46AAC5" stroke-width="1.4" fill="none"/>
<path d="M167.5 92.4 L177.5 102.4 M167.5 102.4 L177.5 92.4 M172.5 92.4 L172.5 102.4" stroke="#46AAC5" stroke-width="1.4" fill="none"/>
<path d="M170.9 91.6 L180.9 101.6 M170.9 101.6 L180.9 91.6 M175.9 91.6 L175.9 101.6" stroke="#46AAC5" stroke-width="1.4" fill="none"/>
<path d="M174.3 92.0 L184.3 102.0 M174.3 102.0 L184.3 92.0 M179.3 92.0 L179.3 102.0" stroke="#46AAC5" stroke-width="1.4" fill="none"/>
<path d="M177.6 91.7 L187.6 101.7 M177.6 101.7 L187.6 91.7 M182.6 91.7 L182.6 101.7" stroke="#46AAC5" stroke-width="1.4" fill="none"/>
<path d="M181.0 92.3 L191.0 102.3 M181.0 102.3 L191.0 92.3 M186.0 92.3 L186.0 102.3" stroke="#46AAC5" stroke-width="1.4" fill="none"/>
<path d="M184.4 91.7 L194.4 101.7 M184.4 101.7 L194.4 91.7 M189.4 91.7 L189.4 101.7" stroke="#46AAC5" stroke-width="1.4" fill="none"/>
<path d="M187.8 91.4 L197.8 101.4 M187.8 101.4 L197.8 91.4 M192.8 91.4 L192.8 101.4" stroke="#46AAC5" stroke-width="1.4" fill="none"/>
<path d="M191.2 91.8 L201.2 101.8 M191.2 101.8 L201.2 91.8 M196.2 91.8 L196.2 101.8" stroke="#46AAC5" stroke-width="1.4" fill="none"/>
<path d="M194.6 91.5 L204.6 101.5 M194.6 101.5 L204.6 91.5 M199.6 91.5 L199.6 101.5" stroke="#46AAC5" stroke-width="1.4" fill="none"/>
<path d="M198.0 91.5 L208.0 101.5 M198.0 101.5 L208.0 91.5 M203.0 91.5 L203.0 101.5" stroke="#46AAC5" stroke-width="1.4" fill="none"/>
<path d="M201.4 92.2 L211.4 102.2 M201.4 102.2 L211.4 92.2 M206.4 92.2 L206.4 102.2" stroke="#46AAC5" stroke-width="1.4" fill="none"/>
<path d="M204.8 91.4 L214.8 101.4 M204.8 101.4 L214.8 91.4 M209.8 91.4 L209.8 101.4" stroke="#46AAC5" stroke-width="1.4" fill="none"/>
<path d="M208.2 91.5 L218.2 101.5 M208.2 101.5 L218.2 91.5 M213.2 91.5 L213.2 101.5" stroke="#46AAC5" stroke-width="1.4" fill="none"/>
<path d="M211.6 91.8 L221.6 101.8 M211.6 101.8 L221.6 91.8 M216.6 91.8 L216.6 101.8" stroke="#46AAC5" stroke-width="1.4" fill="none"/>
<path d="M215.0 92.1 L225.0 102.1 M215.0 102.1 L225.0 92.1 M220.0 92.1 L220.0 102.1" stroke="#46AAC5" stroke-width="1.4" fill="none"/>
<path d="M218.4 91.1 L228.4 101.1 M218.4 101.1 L228.4 91.1 M223.4 91.1 L223.4 101.1" stroke="#46AAC5" stroke-width="1.4" fill="none"/>
<path d="M221.8 91.5 L231.8 101.5 M221.8 101.5 L231.8 91.5 M226.8 91.5 L226.8 101.5" stroke="#46AAC5" stroke-width="1.4" fill="none"/>
<path d="M225.1 91.2 L235.1 101.2 M225.1 101.2 L235.1 91.2 M230.1 91.2 L230.1 101.2" stroke="#46AAC5" stroke-width="1.4" fill="none"/>
<path d="M228.5 90.7 L238.5 100.7 M228.5 100.7 L238.5 90.7 M233.5 90.7 L233.5 100.7" stroke="#46AAC5" stroke-width="1.4" fill="none"/>
<path d="M231.9 89.9 L241.9 99.9 M231.9 99.9 L241.9 89.9 M236.9 89.9 L236.9 99.9" stroke="#46AAC5" stroke-width="1.4" fill="none"/>
<path d="M235.3 88.6 L245.3 98.6 M235.3 98.6 L245.3 88.6 M240.3 88.6 L240.3 98.6" stroke="#46AAC5" stroke-width="1.4" fill="none"/>
<path d="M238.7 89.1 L248.7 99.1 M238.7 99.1 L248.7 89.1 M243.7 89.1 L243.7 99.1" stroke="#46AAC5" stroke-width="1.4" fill="none"/>
<path d="M242.1 88.5 L252.1 98.5 M242.1 98.5 L252.1 88.5 M247.1 88.5 L247.1 98.5" stroke="#46AAC5" stroke-width="1.4" fill="none"/>
<path d="M245.5 88.9 L255.5 98.9 M245.5 98.9 L255.5 88.9 M250.5 88.9 L250.5 98.9" stroke="#46AAC5" stroke-width="1.4" fill="none"/>
<path d="M248.9 88.3 L258.9 98.3 M248.9 98.3 L258.9 88.3 M253.9 88.3 L253.9 98.3" stroke="#46AAC5" stroke-width="1.4" fill="none"/>
<path d="M252.3 88.4 L262.3 98.4 M252.3 98.4 L262.3 88.4 M257.3 88.4 L257.3 98.4" stroke="#46AAC5" stroke-width="1.4" fill="none"/>
<path d="M255.7 89.3 L265.7 99.3 M255.7 99.3 L265.7 89.3 M260.7 89.3 L260.7 99.3" stroke="#46AAC5" stroke-width="1.4" fill="none"/>
<path d="M259.1 89.2 L269.1 99.2 M259.1 99.2 L269.1 89.2 M264.1 89.2 L264.1 99.2" stroke="#46AAC5" stroke-width="1.4" fill="none"/>
<path d="M262.5 89.1 L272.5 99.1 M262.5 99.1 L272.5 89.1 M267.5 89.1 L267.5 99.1" stroke="#46AAC5" stroke-width="1.4" fill="none"/>
<path d="M265.9 88.2 L275.9 98.2 M265.9 98.2 L275.9 88.2 M270.9 88.2 L270.9 98.2" stroke="#46AAC5" stroke-width="1.4" fill="none"/>
<path d="M269.3 88.8 L279.3 98.8 M269.3 98.8 L279.3 88.8 M274.3 88.8 L274.3 98.8" stroke="#46AAC5" stroke-width="1.4" fill="none"/>
<path d="M274.0 98.8 L284.0 108.8 M274.0 108.8 L284.0 98.8 M279.0 98.8 L279.0 108.8" stroke="#46AAC5" stroke-width="1.4" fill="none"/>
<path d="M277.2 152.7 L287.2 162.7 M277.2 162.7 L287.2 152.7 M282.2 152.7 L282.2 162.7" stroke="#46AAC5" stroke-width="1.4" fill="none"/>
<path d="M280.8 206.7 L290.8 216.7 M280.8 216.7 L290.8 206.7 M285.8 206.7 L285.8 216.7" stroke="#46AAC5" stroke-width="1.4" fill="none"/>
<path d="M284.5 260.7 L294.5 270.7 M284.5 270.7 L294.5 260.7 M289.5 260.7 L289.5 270.7" stroke="#46AAC5" stroke-width="1.4" fill="none"/>
<path d="M287.6 360.5 L297.6 370.5 M287.6 370.5 L297.6 360.5 M292.6 360.5 L292.6 370.5" stroke="#46AAC5" stroke-width="1.4" fill="none"/>
<polyline points="54.4,365.5 59.5,365.5 63.8,266.2 69.9,211.2 72.4,153.7 76.8,115.9 79.8,87.1 83.6,72.5 86.6,68.5 90.7,68.0 95.1,68.5 98.5,71.0 102.2,74.5 105.6,79.6 108.7,89.7 112.0,97.0 115.3,104.3 118.6,111.7 121.9,119.0 125.2,126.3 128.5,133.7 131.8,141.0 135.1,148.3 138.4,155.7 141.7,163.0 145.0,170.3 148.7,181.4 152.8,194.5 155.8,207.7 159.6,221.3 163.0,235.4 166.0,245.5 169.4,255.6 173.1,282.3 176.5,365.5" fill="none" stroke="#4A7EBB" stroke-width="2.2" stroke-linejoin="round" stroke-linecap="round"/>
<circle cx="54.4" cy="365.5" r="5.35" fill="#F79646"/>
<circle cx="59.5" cy="365.5" r="5.35" fill="#F79646"/>
<circle cx="63.8" cy="266.2" r="5.35" fill="#F79646"/>
<circle cx="69.9" cy="211.2" r="5.35" fill="#F79646"/>
<circle cx="72.4" cy="153.7" r="5.35" fill="#F79646"/>
<circle cx="76.8" cy="115.9" r="5.35" fill="#F79646"/>
<circle cx="79.8" cy="87.1" r="5.35" fill="#F79646"/>
<circle cx="83.6" cy="72.5" r="5.35" fill="#F79646"/>
<circle cx="86.6" cy="68.5" r="5.35" fill="#F79646"/>
<circle cx="90.7" cy="68.0" r="5.35" fill="#F79646"/>
<circle cx="95.1" cy="68.5" r="5.35" fill="#F79646"/>
<circle cx="98.5" cy="71.0" r="5.35" fill="#F79646"/>
<circle cx="102.2" cy="74.5" r="5.35" fill="#F79646"/>
<circle cx="105.6" cy="79.6" r="5.35" fill="#F79646"/>
<circle cx="108.7" cy="89.7" r="5.35" fill="#F79646"/>
<circle cx="112.0" cy="97.0" r="5.35" fill="#F79646"/>
<circle cx="115.3" cy="104.3" r="5.35" fill="#F79646"/>
<circle cx="118.6" cy="111.7" r="5.35" fill="#F79646"/>
<circle cx="121.9" cy="119.0" r="5.35" fill="#F79646"/>
<circle cx="125.2" cy="126.3" r="5.35" fill="#F79646"/>
<circle cx="128.5" cy="133.7" r="5.35" fill="#F79646"/>
<circle cx="131.8" cy="141.0" r="5.35" fill="#F79646"/>
<circle cx="135.1" cy="148.3" r="5.35" fill="#F79646"/>
<circle cx="138.4" cy="155.7" r="5.35" fill="#F79646"/>
<circle cx="141.7" cy="163.0" r="5.35" fill="#F79646"/>
<circle cx="145.0" cy="170.3" r="5.35" fill="#F79646"/>
<circle cx="148.7" cy="181.4" r="5.35" fill="#F79646"/>
<circle cx="152.8" cy="194.5" r="5.35" fill="#F79646"/>
<circle cx="155.8" cy="207.7" r="5.35" fill="#F79646"/>
<circle cx="159.6" cy="221.3" r="5.35" fill="#F79646"/>
<circle cx="163.0" cy="235.4" r="5.35" fill="#F79646"/>
<circle cx="166.0" cy="245.5" r="5.35" fill="#F79646"/>
<circle cx="169.4" cy="255.6" r="5.35" fill="#F79646"/>
<circle cx="173.1" cy="282.3" r="5.35" fill="#F79646"/>
<circle cx="176.5" cy="365.5" r="5.35" fill="#F79646"/>
<polyline points="54.4,365.5 57.1,365.5 59.8,365.5 62.5,365.5 65.3,365.5 68.0,365.5 70.3,365.5 73.6,284.8 81.5,194.0 89.7,103.3 93.8,92.7 96.8,87.1 99.5,84.6 102.9,83.6 106.3,83.6 109.7,83.6 113.1,83.6 116.5,83.6 119.9,83.6 123.3,83.6 126.7,83.6 130.1,83.6 133.5,83.6 136.8,83.6 140.2,83.6 143.6,83.6 147.0,83.6 150.4,83.6 153.8,83.6 157.2,85.7 160.6,85.8 164.0,85.9 167.4,86.0 170.8,86.1 174.2,86.2 177.6,86.3 181.0,86.4 184.3,86.4 187.7,86.5 191.1,86.6 194.5,86.7 197.9,86.8 201.3,86.9 204.7,87.0 208.1,87.1 211.5,87.2 214.9,87.3 218.3,87.3 221.7,87.4 225.1,87.5 228.4,87.6 231.8,87.7 235.2,87.8 238.6,87.9 240.7,88.6 243.4,91.7 246.4,96.7 250.8,103.3 253.9,133.5 257.6,163.8 262.2,214.2 265.1,249.0 269.2,299.4 272.2,365.5" fill="none" stroke="#4A7EBB" stroke-width="2.2" stroke-linejoin="round" stroke-linecap="round"/>
<circle cx="54.4" cy="365.5" r="4.25" fill="#4F81BD"/>
<circle cx="57.1" cy="365.5" r="4.25" fill="#4F81BD"/>
<circle cx="59.8" cy="365.5" r="4.25" fill="#4F81BD"/>
<circle cx="62.5" cy="365.5" r="4.25" fill="#4F81BD"/>
<circle cx="65.3" cy="365.5" r="4.25" fill="#4F81BD"/>
<circle cx="68.0" cy="365.5" r="4.25" fill="#4F81BD"/>
<circle cx="70.3" cy="365.5" r="4.25" fill="#4F81BD"/>
<circle cx="73.6" cy="284.8" r="4.25" fill="#4F81BD"/>
<circle cx="81.5" cy="194.0" r="4.25" fill="#4F81BD"/>
<circle cx="89.7" cy="103.3" r="4.25" fill="#4F81BD"/>
<circle cx="93.8" cy="92.7" r="4.25" fill="#4F81BD"/>
<circle cx="96.8" cy="87.1" r="4.25" fill="#4F81BD"/>
<circle cx="99.5" cy="84.6" r="4.25" fill="#4F81BD"/>
<circle cx="102.9" cy="83.6" r="4.25" fill="#4F81BD"/>
<circle cx="106.3" cy="83.6" r="4.25" fill="#4F81BD"/>
<circle cx="109.7" cy="83.6" r="4.25" fill="#4F81BD"/>
<circle cx="113.1" cy="83.6" r="4.25" fill="#4F81BD"/>
<circle cx="116.5" cy="83.6" r="4.25" fill="#4F81BD"/>
<circle cx="119.9" cy="83.6" r="4.25" fill="#4F81BD"/>
<circle cx="123.3" cy="83.6" r="4.25" fill="#4F81BD"/>
<circle cx="126.7" cy="83.6" r="4.25" fill="#4F81BD"/>
<circle cx="130.1" cy="83.6" r="4.25" fill="#4F81BD"/>
<circle cx="133.5" cy="83.6" r="4.25" fill="#4F81BD"/>
<circle cx="136.8" cy="83.6" r="4.25" fill="#4F81BD"/>
<circle cx="140.2" cy="83.6" r="4.25" fill="#4F81BD"/>
<circle cx="143.6" cy="83.6" r="4.25" fill="#4F81BD"/>
<circle cx="147.0" cy="83.6" r="4.25" fill="#4F81BD"/>
<circle cx="150.4" cy="83.6" r="4.25" fill="#4F81BD"/>
<circle cx="153.8" cy="83.6" r="4.25" fill="#4F81BD"/>
<circle cx="157.2" cy="85.7" r="4.25" fill="#4F81BD"/>
<circle cx="160.6" cy="85.8" r="4.25" fill="#4F81BD"/>
<circle cx="164.0" cy="85.9" r="4.25" fill="#4F81BD"/>
<circle cx="167.4" cy="86.0" r="4.25" fill="#4F81BD"/>
<circle cx="170.8" cy="86.1" r="4.25" fill="#4F81BD"/>
<circle cx="174.2" cy="86.2" r="4.25" fill="#4F81BD"/>
<circle cx="177.6" cy="86.3" r="4.25" fill="#4F81BD"/>
<circle cx="181.0" cy="86.4" r="4.25" fill="#4F81BD"/>
<circle cx="184.3" cy="86.4" r="4.25" fill="#4F81BD"/>
<circle cx="187.7" cy="86.5" r="4.25" fill="#4F81BD"/>
<circle cx="191.1" cy="86.6" r="4.25" fill="#4F81BD"/>
<circle cx="194.5" cy="86.7" r="4.25" fill="#4F81BD"/>
<circle cx="197.9" cy="86.8" r="4.25" fill="#4F81BD"/>
<circle cx="201.3" cy="86.9" r="4.25" fill="#4F81BD"/>
<circle cx="204.7" cy="87.0" r="4.25" fill="#4F81BD"/>
<circle cx="208.1" cy="87.1" r="4.25" fill="#4F81BD"/>
<circle cx="211.5" cy="87.2" r="4.25" fill="#4F81BD"/>
<circle cx="214.9" cy="87.3" r="4.25" fill="#4F81BD"/>
<circle cx="218.3" cy="87.3" r="4.25" fill="#4F81BD"/>
<circle cx="221.7" cy="87.4" r="4.25" fill="#4F81BD"/>
<circle cx="225.1" cy="87.5" r="4.25" fill="#4F81BD"/>
<circle cx="228.4" cy="87.6" r="4.25" fill="#4F81BD"/>
<circle cx="231.8" cy="87.7" r="4.25" fill="#4F81BD"/>
<circle cx="235.2" cy="87.8" r="4.25" fill="#4F81BD"/>
<circle cx="238.6" cy="87.9" r="4.25" fill="#4F81BD"/>
<circle cx="240.7" cy="88.6" r="4.25" fill="#4F81BD"/>
<circle cx="243.4" cy="91.7" r="4.25" fill="#4F81BD"/>
<circle cx="246.4" cy="96.7" r="4.25" fill="#4F81BD"/>
<circle cx="250.8" cy="103.3" r="4.25" fill="#4F81BD"/>
<circle cx="253.9" cy="133.5" r="4.25" fill="#4F81BD"/>
<circle cx="257.6" cy="163.8" r="4.25" fill="#4F81BD"/>
<circle cx="262.2" cy="214.2" r="4.25" fill="#4F81BD"/>
<circle cx="265.1" cy="249.0" r="4.25" fill="#4F81BD"/>
<circle cx="269.2" cy="299.4" r="4.25" fill="#4F81BD"/>
<circle cx="272.2" cy="365.5" r="4.25" fill="#4F81BD"/>
<rect x="303.8" y="240.6" width="151.5" height="116.2" fill="#fff" stroke="#000" stroke-width="1.3"/>
<line x1="316" x2="344" y1="251.1" y2="251.1" stroke="#BE4B48" stroke-width="3.0" stroke-linecap="round"/>
<rect x="326.2" y="247.3" width="7.6" height="7.6" fill="#C0504D"/>
<line x1="316" x2="344" y1="270.6" y2="270.6" stroke="#4A7EBB" stroke-width="2.2" stroke-linecap="round"/>
<path d="M330.0 266.3 L334.3 274.9 L325.7 274.9 Z" fill="#9BBB59"/>
<line x1="316" x2="344" y1="290.1" y2="290.1" stroke="#4A7EBB" stroke-width="2.2" stroke-linecap="round"/>
<path d="M326.5 286.6 L333.5 293.6 M326.5 293.6 L333.5 286.6" stroke="#7D60A0" stroke-width="1.3" fill="none"/>
<line x1="316" x2="344" y1="309.6" y2="309.6" stroke="#4A7EBB" stroke-width="2.2" stroke-linecap="round"/>
<path d="M326.5 306.1 L333.5 313.1 M326.5 313.1 L333.5 306.1 M330.0 306.1 L330.0 313.1" stroke="#46AAC5" stroke-width="1.2" fill="none"/>
<line x1="316" x2="344" y1="329.2" y2="329.2" stroke="#4A7EBB" stroke-width="2.2" stroke-linecap="round"/>
<circle cx="330.0" cy="329.2" r="4.4" fill="#F79646"/>
<line x1="316" x2="344" y1="348.7" y2="348.7" stroke="#4A7EBB" stroke-width="2.2" stroke-linecap="round"/>
<circle cx="330.0" cy="348.7" r="4.1" fill="#4F81BD"/>
<rect x="0" y="0" width="685" height="1.2" fill="#9C9C9C"/>
<rect x="0" y="0" width="1.2" height="415" fill="#9C9C9C"/>
<rect x="683.1" y="0" width="1.9" height="415" fill="#9C9C9C"/>
<rect x="0" y="412.8" width="685" height="2.2" fill="#9C9C9C"/>
</svg>
<div id="lb">
<div class="t lg" style="left:347.3px;top:243.9px">HDPE before ion</div>
<div class="t lg" style="left:347.3px;top:263.4px">HDPE after ion</div>
<div class="t lg" style="left:347.3px;top:282.9px"><span style="letter-spacing:0.6px">20%</span> Gd before ion</div>
<div class="t lg" style="left:347.3px;top:302.4px"><span style="letter-spacing:0.6px">20%</span> Gd after ion</div>
<div class="t lg" style="left:347.3px;top:322.0px">before <span style="letter-spacing:0.25px">12%</span> Gd</div>
<div class="t lg" style="left:347.3px;top:341.5px">after <span style="letter-spacing:0.15px">12%</span>Gd</div>
<div class="t tk yt" style="top:361.2px">0</div>
<div class="t tk yt" style="top:310.8px">1</div>
<div class="t tk yt" style="top:260.3px">2</div>
<div class="t tk yt" style="top:209.9px">3</div>
<div class="t tk yt" style="top:159.5px">4</div>
<div class="t tk yt" style="top:109.1px">5</div>
<div class="t tk yt" style="top:58.6px">6</div>
<div class="t tk yt" style="top:8.2px">7</div>
<div class="t tk xt" style="left:24.4px">0</div>
<div class="t tk xt" style="left:92.3px">20</div>
<div class="t tk xt" style="left:160.1px">40</div>
<div class="t tk xt" style="left:228.0px">60</div>
<div class="t tk xt" style="left:295.8px">80</div>
<div class="t tk xt" style="left:363.7px">100</div>
<div class="t tk xt" style="left:431.5px">120</div>
<div class="t tk xt" style="left:499.4px">140</div>
<div class="t tk xt" style="left:567.2px">160</div>
<div class="t tk xt" style="left:635.1px">180</div>
<div class="ax" id="xtitle" style="left:319.5px;top:387.9px">Strain (%)</div>
<div class="ax" id="ytitle" style="left:18px;top:200.8px;transform:translate(-50%,-50%) rotate(-90deg)">Stress (MPa)</div>
</div>
</div>
</body></html>
